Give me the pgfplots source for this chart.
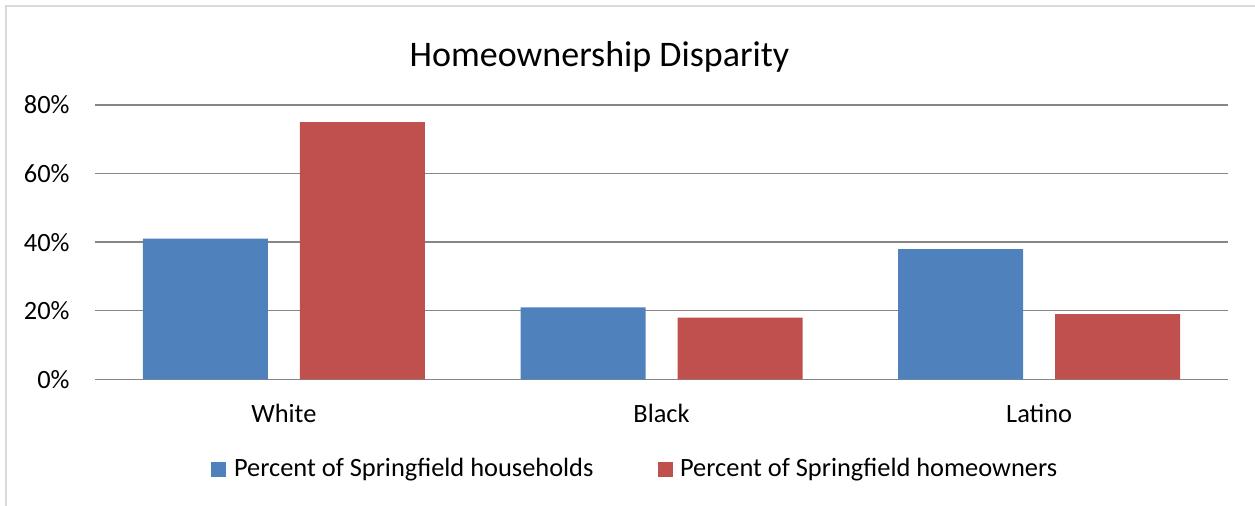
\documentclass[border=0pt]{standalone}
\usepackage{pgfplots}
\pgfplotsset{compat=1.18}
\usepackage{fontspec}
\setmainfont{Carlito}
\definecolor{barblue}{HTML}{4F81BD}
\definecolor{barred}{HTML}{C0504D}
\definecolor{gridgray}{HTML}{868686}
\definecolor{framegray}{HTML}{D9D9D9}
\begin{document}
\begin{tikzpicture}
\path[use as bounding box] (0,0) rectangle (627.5bp,253bp);
\draw[framegray, line width=1bp] (3bp,0) -- (3bp,250bp) -- (627.5bp,250bp);
\begin{axis}[
  at={(47.5bp,63.35bp)}, anchor=south west,
  scale only axis, width=566.5bp, height=137.15bp,
  xmin=-0.5, xmax=2.5, ymin=0, ymax=80, enlargelimits=false,
  xtick={0,1,2}, xticklabels={White,Black,Latino},
  ytick={0,20,40,60,80}, yticklabels={0\%,20\%,40\%,60\%,80\%},
  ybar=16bp, bar width=62.5bp,
  ymajorgrids, grid style={gridgray, line width=0.75bp},
  axis x line*=bottom, axis y line*=left,
  x axis line style={gridgray, line width=0.75bp, -},
  y axis line style={draw=none},
  major tick length=0pt,
  tick label style={font=\fontsize{13.2bp}{15bp}\selectfont, inner sep=0pt},
  yticklabel style={anchor=east, xshift=-12.5bp},
  xticklabel style={anchor=base, yshift=-21.35bp},
  legend columns=2,
  legend style={at={(axis description cs:0.1024,-0.3562)}, anchor=south west,
    draw=none, fill=none, inner sep=0pt, column sep=0pt, row sep=0pt,
    cells={anchor=base west},
    nodes={inner sep=0pt, text depth=0pt, font=\fontsize{13.2bp}{15bp}\selectfont},
    /tikz/every even column/.append style={column sep=32bp}},
  legend image code/.code={\fill[#1] (0bp,0bp) rectangle (7.5bp,7.5bp); \path (11.3bp,0bp);},
]
\addplot[fill=barblue, draw=none] coordinates {(0,41) (1,21) (2,38)};
\addplot[fill=barred, draw=none] coordinates {(0,75) (1,18) (2,19)};
\legend{Percent of Springfield households, Percent of Springfield homeowners}
\end{axis}
\node[anchor=base, font=\fontsize{18bp}{20bp}\selectfont] at (299.75bp,219.5bp) {Homeownership Disparity};
\end{tikzpicture}
\end{document}
